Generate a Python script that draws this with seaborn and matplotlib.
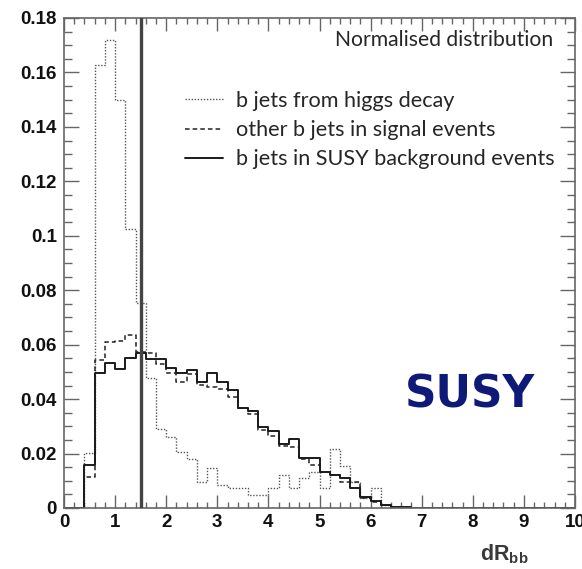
import numpy as np
import pandas as pd
import matplotlib
matplotlib.use("Agg")
import matplotlib.pyplot as plt
from matplotlib.lines import Line2D
from matplotlib.ticker import MultipleLocator, FuncFormatter
import seaborn as sns

# Histogram binning: 50 bins of width 0.2 on [0, 10]
bin_width = 0.2
bin_range = (0.0, 10.0)
bin_centers = np.arange(bin_range[0] + bin_width / 2, bin_range[1], bin_width)

# Normalised dR_bb distributions (one value per bin)
higgs_bjets = [0, 0, 0.0203, 0.1626, 0.1720, 0.1500, 0.1025, 0.0752, 0.0477, 0.0289,
               0.0262, 0.0205, 0.0179, 0.0094, 0.0146, 0.0085, 0.0075, 0.0072, 0.0048, 0.0048,
               0.0072, 0.0121, 0.0072, 0.0109, 0.0131, 0.0072, 0.0217, 0.0156, 0.0097, 0.0036,
               0.0072, 0.0011, 0.0003, 0, 0, 0, 0, 0, 0, 0,
               0, 0, 0, 0, 0, 0, 0, 0, 0, 0]
other_signal_bjets = [0, 0, 0.0113, 0.0544, 0.0610, 0.0615, 0.0635, 0.0573, 0.0571, 0.0530,
                      0.0497, 0.0464, 0.0491, 0.0452, 0.0446, 0.0436, 0.0409, 0.0366, 0.0344, 0.0287,
                      0.0266, 0.0228, 0.0223, 0.0179, 0.0158, 0.0133, 0.0121, 0.0097, 0.0094, 0.0036,
                      0.0022, 0.0010, 0.0004, 0, 0, 0, 0, 0, 0, 0,
                      0, 0, 0, 0, 0, 0, 0, 0, 0, 0]
susy_bkg_bjets = [0, 0, 0.0158, 0.0497, 0.0534, 0.0511, 0.0552, 0.0568, 0.0548, 0.0546,
                  0.0513, 0.0497, 0.0507, 0.0464, 0.0497, 0.0462, 0.0434, 0.0369, 0.0358, 0.0297,
                  0.0283, 0.0234, 0.0252, 0.0185, 0.0185, 0.0133, 0.0121, 0.0109, 0.0075, 0.0040,
                  0.0025, 0.0011, 0.0005, 0.0002, 0, 0, 0, 0, 0, 0,
                  0, 0, 0, 0, 0, 0, 0, 0, 0, 0]

series_labels = ["b jets from higgs decay",
                 "other b jets in signal events",
                 "b jets in SUSY background events"]
cut_value = 1.5

sns.set_style("white")
plt.rcParams["font.family"] = ["Liberation Sans", "DejaVu Sans"]
plt.rcParams["mathtext.fontset"] = "custom"
plt.rcParams["mathtext.bf"] = "Liberation Sans:bold"
plt.rcParams["mathtext.rm"] = "Liberation Sans:bold"

fig = plt.figure(figsize=(5.82, 5.69), dpi=100)
ax = fig.add_axes([64 / 582, 1 - 508 / 569, 511 / 582, 490 / 569])

styles = [dict(linestyle=(0, (1, 1.2)), color="#555555", linewidth=1.0),
          dict(linestyle=(0, (3, 2)), color="#222222", linewidth=1.1),
          dict(linestyle="-", color="#1a1a1a", linewidth=1.4)]

for values, label, st in zip([higgs_bjets, other_signal_bjets, susy_bkg_bjets],
                             series_labels, styles):
    df = pd.DataFrame({"dR": bin_centers, "w": values})
    sns.histplot(data=df, x="dR", weights="w", binwidth=bin_width, binrange=bin_range,
                 element="step", fill=False, ax=ax, label=label, **st)

ax.axvline(cut_value, color="#444444", linewidth=2.4, zorder=5)

ax.set_xlim(0, 10)
ax.set_ylim(0, 0.18)
ax.set_xlabel("")
ax.set_ylabel("")

ax.xaxis.set_major_locator(MultipleLocator(1))
ax.xaxis.set_minor_locator(MultipleLocator(0.2))
ax.yaxis.set_major_locator(MultipleLocator(0.02))
ax.yaxis.set_minor_locator(MultipleLocator(0.005))
ax.yaxis.set_major_formatter(FuncFormatter(lambda v, p: f"{v:.2f}".rstrip("0").rstrip(".") if v else "0"))

for side in ax.spines.values():
    side.set_color("#666666")
    side.set_linewidth(1.2)

ax.tick_params(axis="y", which="major", direction="in", length=11, width=1.0,
               color="#666666", left=True, right=True, pad=5)
ax.tick_params(axis="y", which="minor", direction="in", length=5.5, width=1.0,
               color="#666666", left=True, right=True)
ax.tick_params(axis="x", which="major", direction="in", length=9.5, width=1.0,
               color="#666666", bottom=True, top=True, pad=4)
ax.tick_params(axis="x", which="minor", direction="in", length=4.5, width=1.0,
               color="#666666", bottom=True, top=True)
for lab in ax.get_xticklabels() + ax.get_yticklabels():
    lab.set_fontweight("bold")
    lab.set_fontsize(13.5)
    lab.set_color("#111111")

text_font = ["Lato", "DejaVu Sans"]
ax.text(0.958, 0.943, "Normalised distribution", transform=ax.transAxes,
        ha="right", va="baseline", fontsize=15.2, family=text_font)

handles = [Line2D([], [], **st) for st in styles]
ax.legend(handles, series_labels, loc="upper left", bbox_to_anchor=(0.237, 0.851),
          frameon=False, borderpad=0, borderaxespad=0,
          handlelength=1.75, handletextpad=0.6, labelspacing=0.42,
          prop={"family": text_font, "size": 15.6})

ax.text(0.794, 0.231, "SUSY", transform=ax.transAxes, ha="center", va="center",
        fontsize=31.5, fontweight="bold", color="#0f1a78", family=["DejaVu Sans"])

fig.text(529 / 582, 1 - 560 / 569, r"$\mathbf{dR_{bb}}$", ha="right", va="baseline",
         fontsize=15.5, color="#3a3a3a")

fig.savefig("out.png", dpi=100)
